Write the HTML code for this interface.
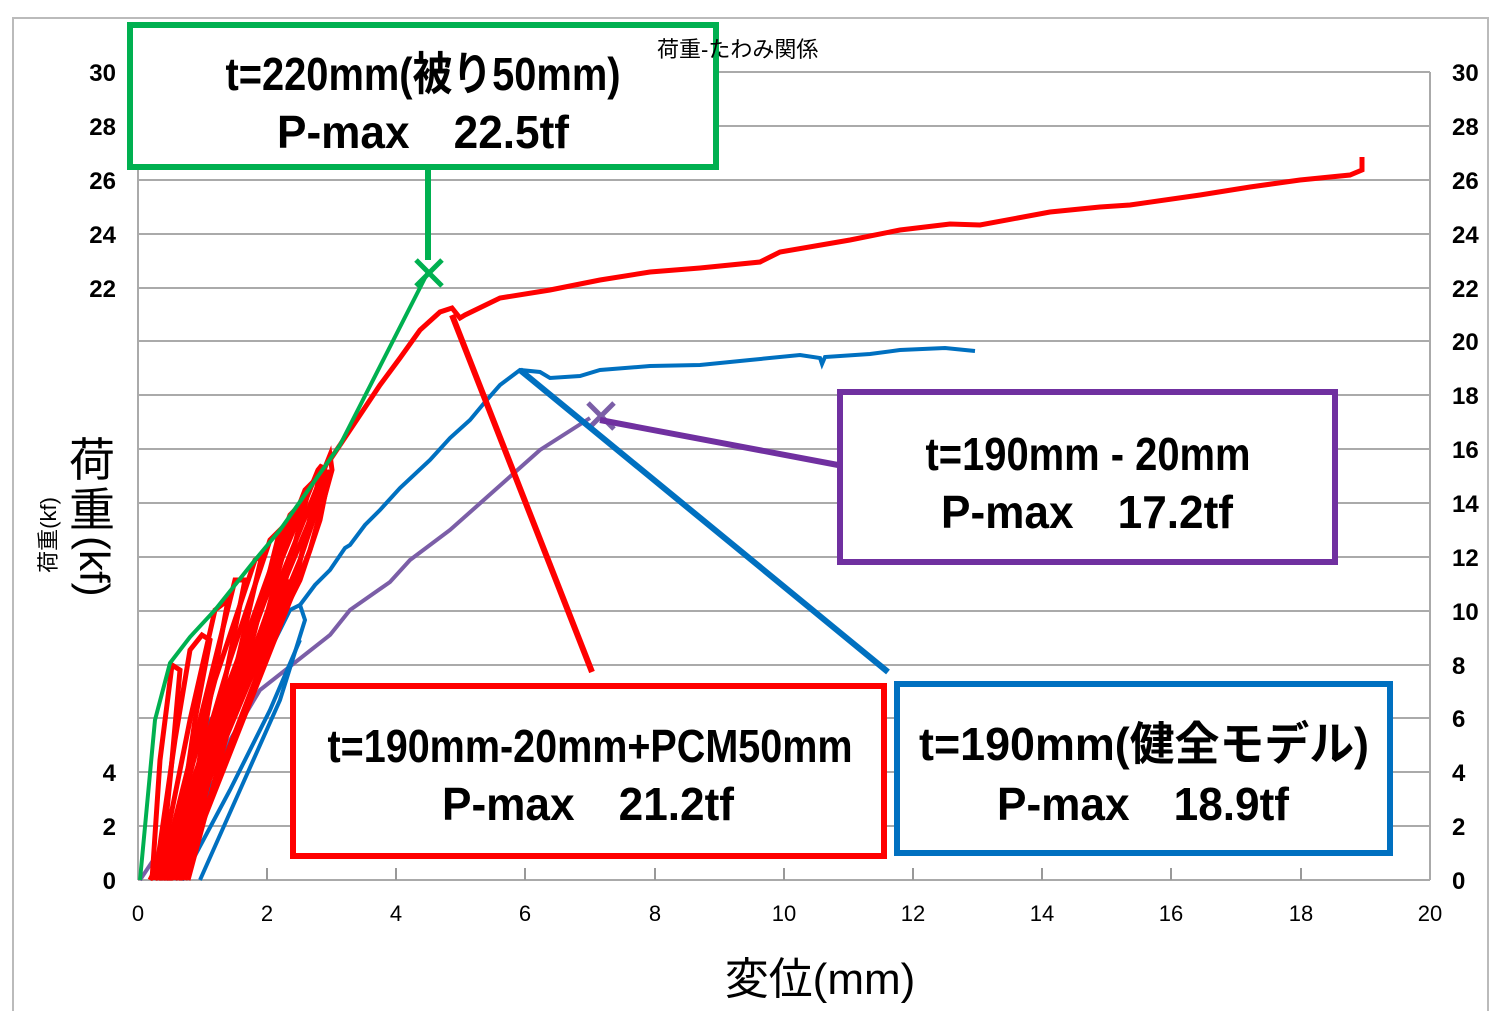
<!DOCTYPE html>
<html><head><meta charset="utf-8"><style>body{margin:0;background:#fff}svg{display:block}</style></head><body>
<svg width="1500" height="1011" viewBox="0 0 1500 1011" xmlns="http://www.w3.org/2000/svg" font-family="'Liberation Sans','Noto Sans CJK JP',sans-serif">
<rect x="13" y="18" width="1475" height="1000" fill="none" stroke="#bbb" stroke-width="2"/>
<g stroke="#aaa" stroke-width="2">
<line x1="138" y1="72" x2="1430" y2="72"/><line x1="138" y1="126" x2="1430" y2="126"/><line x1="138" y1="180" x2="1430" y2="180"/><line x1="138" y1="234" x2="1430" y2="234"/><line x1="138" y1="288" x2="1430" y2="288"/><line x1="138" y1="341" x2="1430" y2="341"/><line x1="138" y1="395" x2="1430" y2="395"/><line x1="138" y1="449" x2="1430" y2="449"/><line x1="138" y1="503" x2="1430" y2="503"/><line x1="138" y1="557" x2="1430" y2="557"/><line x1="138" y1="611" x2="1430" y2="611"/><line x1="138" y1="665" x2="1430" y2="665"/><line x1="138" y1="718" x2="1430" y2="718"/><line x1="138" y1="772" x2="1430" y2="772"/><line x1="138" y1="826" x2="1430" y2="826"/><line x1="138" y1="880" x2="1430" y2="880"/>
<line x1="138" y1="72" x2="138" y2="880"/><line x1="1430" y1="72" x2="1430" y2="880"/>
</g>
<g stroke="#999" stroke-width="2">
<line x1="267" y1="868" x2="267" y2="880"/><line x1="396" y1="868" x2="396" y2="880"/><line x1="525" y1="868" x2="525" y2="880"/><line x1="655" y1="868" x2="655" y2="880"/><line x1="784" y1="868" x2="784" y2="880"/><line x1="913" y1="868" x2="913" y2="880"/><line x1="1042" y1="868" x2="1042" y2="880"/><line x1="1171" y1="868" x2="1171" y2="880"/><line x1="1301" y1="868" x2="1301" y2="880"/>
</g>
<g font-size="24" font-weight="bold" fill="#000" text-anchor="end">
<text x="116" y="81">30</text><text x="116" y="135">28</text><text x="116" y="189">26</text><text x="116" y="243">24</text><text x="116" y="297">22</text><text x="116" y="781">4</text><text x="116" y="835">2</text><text x="116" y="889">0</text>
</g>
<g font-size="24" font-weight="bold" fill="#000" text-anchor="start">
<text x="1452" y="81">30</text><text x="1452" y="135">28</text><text x="1452" y="189">26</text><text x="1452" y="243">24</text><text x="1452" y="297">22</text><text x="1452" y="350">20</text><text x="1452" y="404">18</text><text x="1452" y="458">16</text><text x="1452" y="512">14</text><text x="1452" y="566">12</text><text x="1452" y="620">10</text><text x="1452" y="674">8</text><text x="1452" y="727">6</text><text x="1452" y="781">4</text><text x="1452" y="835">2</text><text x="1452" y="889">0</text>
</g>
<g font-size="22" fill="#000" text-anchor="middle">
<text x="138" y="921">0</text><text x="267" y="921">2</text><text x="396" y="921">4</text><text x="525" y="921">6</text><text x="655" y="921">8</text><text x="784" y="921">10</text><text x="913" y="921">12</text><text x="1042" y="921">14</text><text x="1171" y="921">16</text><text x="1301" y="921">18</text><text x="1430" y="921">20</text>
</g>
<text x="820" y="994" font-size="44" text-anchor="middle">変位(mm)</text>
<text transform="translate(56,535) rotate(-90)" font-size="22" text-anchor="middle">荷重(kf)</text>
<g font-size="46" text-anchor="middle"><text x="92" y="476">荷</text><text x="92" y="526">重</text></g>
<text transform="translate(80,536) rotate(90)" font-size="42">(kf)</text>
<!-- purple -->
<polyline fill="none" stroke="#7b5ea7" stroke-width="4" points="140,880 200,790 260,690 330,635 350,610 390,582 410,560 450,530 540,450 590,418"/>
<!-- blue -->
<g fill="none" stroke="#0070c0" stroke-width="4">
<polyline points="165,880 185,790 200,740 222,700 240,680"/>
<polyline points="175,880 210,790 240,720 270,650 290,610 300,605 305,620 280,700 240,790 200,880"/>
<polyline points="182,880 230,790 270,710 300,640"/>
<polyline points="300,605 315,585 330,570 345,548 350,545 365,525 380,510 400,488 430,460 450,438 470,420 485,402 500,385 520,370 540,372 550,378 580,376 600,370 650,366 700,365 750,360 800,355 820,358 822,364 825,357 870,354 900,350 945,348 975,351"/>
</g>
<!-- red cycles -->
<g fill="none" stroke="#ff0000" stroke-width="5">
<polyline points="152,880 160,760 172,665 180,670 172,760 160,880"/>
<polyline points="155,880 175,740 190,650 202,635 210,640 195,720 172,880"/>
<polyline points="158,880 190,720 215,610 228,600 210,700 178,880"/>
<polyline points="160,880 205,700 235,580 245,580 225,680 182,880"/>
<polyline points="162,880 215,680 255,560 262,555 240,650 185,880"/>
<polyline points="165,880 230,660 270,540 280,530 255,630 188,880"/>
<polyline points="168,880 245,640 290,515 295,510 268,610 175,880"/>
<polyline points="160,880 255,620 305,490 310,485 283,590 170,880"/>
<polyline points="163,880 265,600 318,470 322,465 298,570 178,880"/>
<polyline points="166,880 280,580 330,455 332,470 310,550 180,880"/>
<polyline points="150,880 240,700 300,580 320,520 330,470 300,560 200,800 168,880"/>
<polyline points="170,880 260,640 310,520 328,470"/>
<polyline points="155,880 230,700 290,580"/>
<polyline points="158,880 200,760 245,640 280,560"/>
<polyline points="340,445 360,415 380,385 400,358 420,330 440,312 452,308 460,318 465,315 500,298 550,290 600,280 650,272 700,268 760,262 780,252 850,240 900,230 950,224 980,225 1050,212 1100,207 1130,205 1200,195 1250,187 1300,180 1350,175 1362,170 1362,157"/>
<polyline points="330,460 340,445"/>
</g>
<!-- green -->
<polyline fill="none" stroke="#00b050" stroke-width="4" points="140,880 155,720 170,663 190,637 215,610 255,560 280,530 340,445 428,272"/>
<!-- markers -->
<g stroke="#00b050" stroke-width="5"><line x1="416" y1="260" x2="442" y2="286"/><line x1="442" y1="260" x2="416" y2="286"/></g>
<g stroke="#7b5ea7" stroke-width="5"><line x1="588" y1="403" x2="614" y2="429"/><line x1="614" y1="403" x2="588" y2="429"/></g>
<!-- connectors -->
<line x1="428" y1="160" x2="428" y2="260" stroke="#00b050" stroke-width="6"/>
<line x1="452" y1="315" x2="592" y2="672" stroke="#ff0000" stroke-width="6"/>
<line x1="520" y1="370" x2="888" y2="672" stroke="#0070c0" stroke-width="6"/>
<line x1="600" y1="420" x2="838" y2="465" stroke="#7030a0" stroke-width="6"/>
<!-- boxes -->
<rect x="130" y="25" width="586" height="142" fill="#fff" stroke="#00b050" stroke-width="6"/>
<rect x="293" y="686" width="591" height="170" fill="#fff" stroke="#ff0000" stroke-width="6"/>
<rect x="897" y="684" width="493" height="169" fill="#fff" stroke="#0070c0" stroke-width="6"/>
<rect x="840" y="392" width="495" height="170" fill="#fff" stroke="#7030a0" stroke-width="6"/>
<text x="657" y="57" font-size="22">荷重-たわみ関係</text>
<g font-size="46" font-weight="bold" text-anchor="middle" fill="#000">
<text x="423" y="90" textLength="395" lengthAdjust="spacingAndGlyphs">t=220mm(被り50mm)</text>
<text x="423" y="148" textLength="292" lengthAdjust="spacingAndGlyphs">P-max　22.5tf</text>
<text x="590" y="762" textLength="525" lengthAdjust="spacingAndGlyphs">t=190mm-20mm+PCM50mm</text>
<text x="588" y="820" textLength="292" lengthAdjust="spacingAndGlyphs">P-max　21.2tf</text>
<text x="1144" y="760" textLength="450" lengthAdjust="spacingAndGlyphs">t=190mm(健全モデル)</text>
<text x="1143" y="820" textLength="292" lengthAdjust="spacingAndGlyphs">P-max　18.9tf</text>
<text x="1088" y="470" textLength="325" lengthAdjust="spacingAndGlyphs">t=190mm - 20mm</text>
<text x="1087" y="528" textLength="292" lengthAdjust="spacingAndGlyphs">P-max　17.2tf</text>
</g>
</svg>
</body></html>
